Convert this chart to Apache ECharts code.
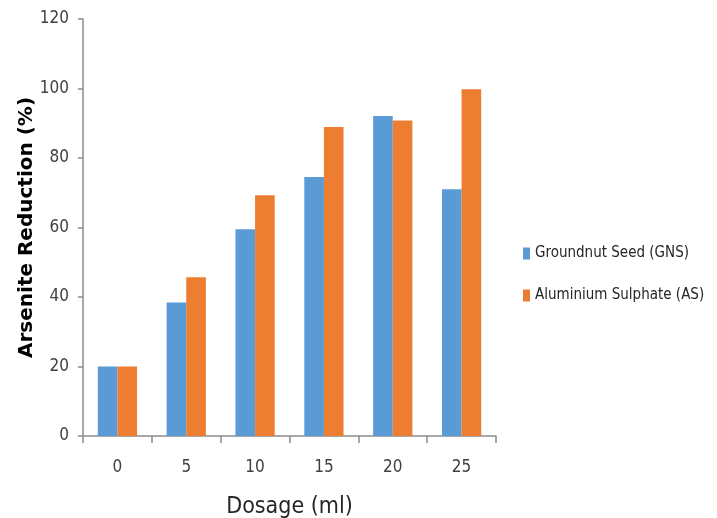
<!DOCTYPE html>
<html>
<head>
<meta charset="utf-8">
<script src="https://cdn.jsdelivr.net/npm/echarts@6/dist/echarts.min.js"></script>
<style>html,body{margin:0;padding:0;background:#fff}#c{width:717px;height:518px}</style>
</head>
<body>
<div id="c"></div>
<script>
const categories = ['0', '5', '10', '15', '20', '25'];
const gnsValues = [20, 38.4, 59.5, 74.5, 92.1, 71.0];
const asValues = [20, 45.7, 69.3, 88.9, 90.8, 99.8];
const seriesNames = ['Groundnut Seed (GNS)', 'Aluminium Sulphate (AS)'];
const yTicks = { min: 0, max: 120, interval: 20 };

const narrow = '"Liberation Sans Narrow", "DejaVu Sans Condensed", "Liberation Sans", sans-serif';
const chart = echarts.init(document.getElementById('c'), null, { renderer: 'canvas' });
chart.setOption({
  animation: false,
  backgroundColor: '#fff',
  grid: { left: 83, right: 221, top: 19, bottom: 82, containLabel: false, outerBoundsMode: 'none' },
  legend: {
    orient: 'vertical',
    left: 518,
    top: 241,
    itemWidth: 7,
    itemHeight: 12,
    itemGap: 27,
    icon: 'rect',
    textStyle: { fontFamily: narrow, fontSize: 15, color: '#262626', padding: [0, 0, 0, 0] },
    data: seriesNames
  },
  xAxis: {
    type: 'category',
    data: categories,
    name: 'Dosage (ml)',
    nameLocation: 'middle',
    nameGap: 60,
    nameMoveOverlap: false,
    nameTextStyle: { fontFamily: narrow, fontSize: 23, color: '#262626' },
    axisLine: { lineStyle: { color: '#8c8c8c', width: 1.5 } },
    axisTick: { show: true, length: 7, lineStyle: { color: '#8c8c8c', width: 1.5 } },
    axisLabel: { fontFamily: narrow, fontSize: 17, color: '#404040', margin: 23 }
  },
  yAxis: {
    type: 'value',
    min: yTicks.min,
    max: yTicks.max,
    interval: yTicks.interval,
    name: 'Arsenite Reduction (%)',
    nameLocation: 'middle',
    nameGap: 46,
    nameMoveOverlap: false,
    nameTextStyle: { fontFamily: '"DejaVu Sans", sans-serif', fontWeight: 'bold', fontSize: 20, color: '#000' },
    axisLine: { show: true, lineStyle: { color: '#8c8c8c', width: 1.5 } },
    axisTick: { show: true, length: 5, lineStyle: { color: '#8c8c8c', width: 1.5 } },
    splitLine: { show: false },
    axisLabel: { fontFamily: narrow, fontSize: 17, color: '#404040', margin: 14 }
  },
  series: [
    { name: seriesNames[0], type: 'bar', data: gnsValues, barGap: '0%', barCategoryGap: '43%', itemStyle: { color: '#5B9BD5' } },
    { name: seriesNames[1], type: 'bar', data: asValues, barGap: '0%', barCategoryGap: '43%', itemStyle: { color: '#ED7D31' } }
  ]
});
</script>
</body>
</html>
